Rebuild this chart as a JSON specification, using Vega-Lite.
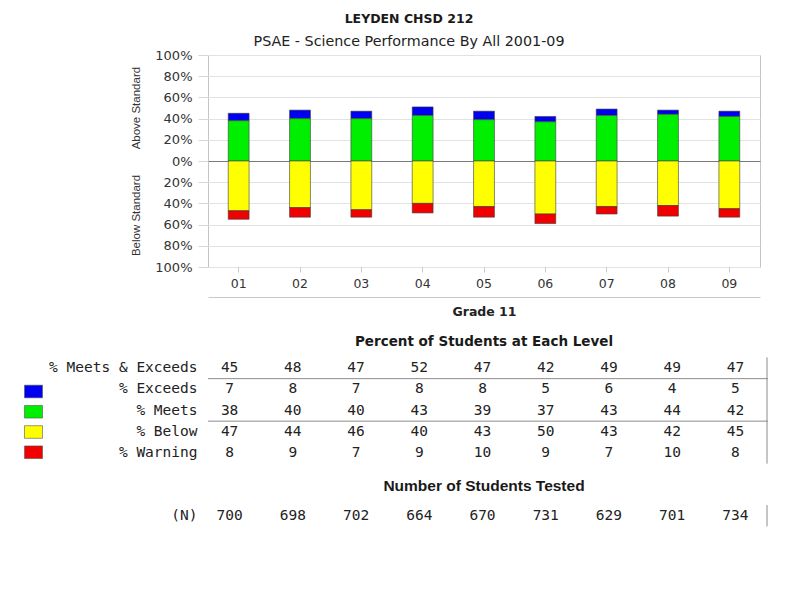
{
  "$schema": "https://vega.github.io/schema/vega-lite/v6.json",
  "autosize": {"type": "none"},
  "padding": {"left": 208, "top": 55, "right": 595, "bottom": 539},
  "background": "white",
  "bounds": "flush",
  "spacing": 90.4,
  "title": {
    "text": "LEYDEN CHSD 212",
    "subtitle": "PSAE - Science Performance By All 2001-09",
    "anchor": "middle",
    "frame": "group",
    "dx": 201,
    "offset": -1,
    "font": "DejaVu Sans",
    "fontSize": 12.5,
    "fontWeight": "bold",
    "color": "#1a1a1a",
    "subtitleFont": "DejaVu Sans",
    "subtitleFontSize": 14.3,
    "subtitleColor": "#222222",
    "subtitlePadding": 10
  },
  "datasets": {
    "scores": [
      {"grade": "01", "level": "% Exceeds", "pct": 7},
      {"grade": "01", "level": "% Meets", "pct": 38},
      {"grade": "01", "level": "% Below", "pct": 47},
      {"grade": "01", "level": "% Warning", "pct": 8},
      {"grade": "02", "level": "% Exceeds", "pct": 8},
      {"grade": "02", "level": "% Meets", "pct": 40},
      {"grade": "02", "level": "% Below", "pct": 44},
      {"grade": "02", "level": "% Warning", "pct": 9},
      {"grade": "03", "level": "% Exceeds", "pct": 7},
      {"grade": "03", "level": "% Meets", "pct": 40},
      {"grade": "03", "level": "% Below", "pct": 46},
      {"grade": "03", "level": "% Warning", "pct": 7},
      {"grade": "04", "level": "% Exceeds", "pct": 8},
      {"grade": "04", "level": "% Meets", "pct": 43},
      {"grade": "04", "level": "% Below", "pct": 40},
      {"grade": "04", "level": "% Warning", "pct": 9},
      {"grade": "05", "level": "% Exceeds", "pct": 8},
      {"grade": "05", "level": "% Meets", "pct": 39},
      {"grade": "05", "level": "% Below", "pct": 43},
      {"grade": "05", "level": "% Warning", "pct": 10},
      {"grade": "06", "level": "% Exceeds", "pct": 5},
      {"grade": "06", "level": "% Meets", "pct": 37},
      {"grade": "06", "level": "% Below", "pct": 50},
      {"grade": "06", "level": "% Warning", "pct": 9},
      {"grade": "07", "level": "% Exceeds", "pct": 6},
      {"grade": "07", "level": "% Meets", "pct": 43},
      {"grade": "07", "level": "% Below", "pct": 43},
      {"grade": "07", "level": "% Warning", "pct": 7},
      {"grade": "08", "level": "% Exceeds", "pct": 4},
      {"grade": "08", "level": "% Meets", "pct": 44},
      {"grade": "08", "level": "% Below", "pct": 42},
      {"grade": "08", "level": "% Warning", "pct": 10},
      {"grade": "09", "level": "% Exceeds", "pct": 5},
      {"grade": "09", "level": "% Meets", "pct": 42},
      {"grade": "09", "level": "% Below", "pct": 45},
      {"grade": "09", "level": "% Warning", "pct": 8}
    ],
    "summary": [
      {"grade": "01", "meetsExceeds": 45, "tested": 700},
      {"grade": "02", "meetsExceeds": 48, "tested": 698},
      {"grade": "03", "meetsExceeds": 47, "tested": 702},
      {"grade": "04", "meetsExceeds": 52, "tested": 664},
      {"grade": "05", "meetsExceeds": 47, "tested": 670},
      {"grade": "06", "meetsExceeds": 42, "tested": 731},
      {"grade": "07", "meetsExceeds": 49, "tested": 629},
      {"grade": "08", "meetsExceeds": 49, "tested": 701},
      {"grade": "09", "meetsExceeds": 47, "tested": 734}
    ]
  },
  "vconcat": [
    {
      "width": 552,
      "height": 212,
      "data": {"name": "scores"},
      "transform": [
        {"calculate": "datum.level === '% Below' || datum.level === '% Warning' ? -datum.pct : datum.pct", "as": "signed"},
        {"calculate": "indexof(['% Meets', '% Exceeds', '% Below', '% Warning'], datum.level)", "as": "stackOrder"}
      ],
      "layer": [
        {
          "mark": {"type": "bar", "width": {"band": 0.34}, "stroke": "#3c3c3c", "strokeWidth": 0.6},
          "encoding": {
            "x": {
              "field": "grade",
              "type": "ordinal",
              "scale": {"domain": ["01", "02", "03", "04", "05", "06", "07", "08", "09"], "paddingInner": 0, "paddingOuter": 0},
              "axis": {
                "title": null,
                "domain": false,
                "ticks": true,
                "tickSize": 5,
                "tickColor": "#c8c8c8",
                "labelAngle": 0,
                "labelPadding": 5,
                "labelFont": "DejaVu Sans",
                "labelFontSize": 12.5,
                "labelColor": "#333333",
                "grid": false
              }
            },
            "y": {
              "field": "signed",
              "type": "quantitative",
              "stack": "zero",
              "scale": {"domain": [-100, 100], "nice": false, "zero": false},
              "axis": {
                "values": [-100, -80, -60, -40, -20, 0, 20, 40, 60, 80, 100],
                "labelExpr": "abs(datum.value) + '%'",
                "domain": false,
                "tickSize": 10,
                "tickColor": "#d8d8d8",
                "labelPadding": 6,
                "labelFont": "DejaVu Sans",
                "labelFontSize": 13,
                "labelColor": "#333333",
                "grid": true,
                "gridColor": {"condition": {"test": "datum.value === 0", "value": "#7a7a7a"}, "value": "#e2e2e2"},
                "title": "Below Standard\u00a0\u00a0\u00a0\u00a0\u00a0\u00a0\u00a0\u00a0Above Standard",
                "titleFont": "Liberation Sans",
                "titleFontWeight": "normal",
                "titleFontSize": 11.5,
                "titleColor": "#333333",
                "titlePadding": 13
              }
            },
            "color": {
              "field": "level",
              "type": "nominal",
              "scale": {
                "domain": ["% Exceeds", "% Meets", "% Below", "% Warning"],
                "range": ["#0000f0", "#00ee00", "#ffff00", "#f00000"]
              },
              "legend": {
                "orient": "none",
                "legendX": -184,
                "legendY": 327,
                "title": null,
                "labelExpr": "''",
                "symbolType": "M-1,-0.7H1V0.7H-1Z",
                "symbolSize": 324,
                "symbolStrokeWidth": 0.6,
                "symbolStrokeColor": "#555555",
                "symbolOpacity": 1,
                "rowPadding": 3.25,
                "padding": 0
              }
            },
            "order": {"field": "stackOrder"}
          }
        },
        {
          "mark": {"type": "tick", "opacity": 0},
          "encoding": {
            "x": {
              "field": "grade",
              "type": "ordinal",
              "axis": {
                "orient": "bottom",
                "offset": 30,
                "domain": true,
                "domainColor": "#c8c8c8",
                "ticks": false,
                "labels": false,
                "grid": false,
                "title": "Grade 11",
                "titleFont": "DejaVu Sans",
                "titleFontWeight": "bold",
                "titleFontSize": 12.5,
                "titleColor": "#222222",
                "titlePadding": 8
              }
            }
          }
        }
      ],
      "resolve": {"axis": {"x": "independent"}}
    },
    {
      "bounds": "flush",
      "spacing": 40.75,
      "vconcat": [
        {
          "width": 560,
          "height": 106.25,
          "view": {"stroke": null},
          "title": {
            "text": "Percent of Students at Each Level",
            "anchor": "middle",
            "frame": "group",
            "dx": -4,
            "offset": 8,
            "font": "DejaVu Sans",
            "fontSize": 13.5,
            "fontWeight": "bold",
            "color": "#1a1a1a"
          },
          "layer": [
            {
              "data": {"name": "summary"},
              "mark": {"type": "text", "font": "DejaVu Sans Mono", "fontSize": 14.5, "color": "#222222"},
              "encoding": {
                "x": {
                  "field": "grade",
                  "type": "ordinal",
                  "scale": {"domain": ["01", "02", "03", "04", "05", "06", "07", "08", "09"], "range": [-10, 559], "paddingInner": 0, "paddingOuter": 0},
                  "axis": null
                },
                "y": {
                  "datum": "% Meets & Exceeds",
                  "type": "nominal",
                  "scale": {"domain": ["% Meets & Exceeds", "% Exceeds", "% Meets", "% Below", "% Warning"], "paddingInner": 0, "paddingOuter": 0},
                  "axis": {
                    "title": null,
                    "domain": false,
                    "ticks": false,
                    "grid": false,
                    "labelPadding": 11,
                    "labelFont": "DejaVu Sans Mono",
                    "labelFontSize": 14.5,
                    "labelColor": "#222222"
                  }
                },
                "text": {"field": "meetsExceeds", "type": "quantitative"}
              }
            },
            {
              "data": {"name": "scores"},
              "mark": {"type": "text", "font": "DejaVu Sans Mono", "fontSize": 14.5, "color": "#222222"},
              "encoding": {
                "x": {"field": "grade", "type": "ordinal", "axis": null},
                "y": {"field": "level", "type": "nominal"},
                "text": {"field": "pct", "type": "quantitative"}
              }
            },
            {
              "data": {"values": [{"row": "% Exceeds"}, {"row": "% Below"}]},
              "mark": {"type": "rule", "color": "#8c8c8c", "strokeWidth": 1},
              "encoding": {
                "y": {"field": "row", "type": "nominal", "bandPosition": 0}
              }
            },
            {
              "data": {"values": [{}]},
              "mark": {"type": "rule", "color": "#8c8c8c", "strokeWidth": 1},
              "encoding": {
                "x": {"datum": "09", "type": "ordinal", "bandPosition": 1, "axis": null}
              }
            }
          ]
        },
        {
          "width": 560,
          "height": 21.25,
          "view": {"stroke": null},
          "title": {
            "text": "Number of Students Tested",
            "anchor": "middle",
            "frame": "group",
            "dx": -4,
            "offset": 10,
            "font": "Liberation Sans",
            "fontSize": 15.5,
            "fontWeight": "bold",
            "color": "#1a1a1a"
          },
          "layer": [
            {
              "data": {"name": "summary"},
              "mark": {"type": "text", "font": "DejaVu Sans Mono", "fontSize": 14.5, "color": "#222222"},
              "encoding": {
                "x": {
                  "field": "grade",
                  "type": "ordinal",
                  "scale": {"domain": ["01", "02", "03", "04", "05", "06", "07", "08", "09"], "range": [-10, 559], "paddingInner": 0, "paddingOuter": 0},
                  "axis": null
                },
                "y": {
                  "datum": "(N)",
                  "type": "nominal",
                  "scale": {"domain": ["(N)"], "paddingInner": 0, "paddingOuter": 0},
                  "axis": {
                    "title": null,
                    "domain": false,
                    "ticks": false,
                    "grid": false,
                    "labelPadding": 11,
                    "labelFont": "DejaVu Sans Mono",
                    "labelFontSize": 14.5,
                    "labelColor": "#222222"
                  }
                },
                "text": {"field": "tested", "type": "quantitative"}
              }
            },
            {
              "data": {"values": [{}]},
              "mark": {"type": "rule", "color": "#8c8c8c", "strokeWidth": 1},
              "encoding": {
                "x": {"datum": "09", "type": "ordinal", "bandPosition": 1, "axis": null}
              }
            }
          ]
        }
      ]
    }
  ],
  "config": {
    "font": "DejaVu Sans",
    "view": {"stroke": "#c4c4c4"}
  }
}
